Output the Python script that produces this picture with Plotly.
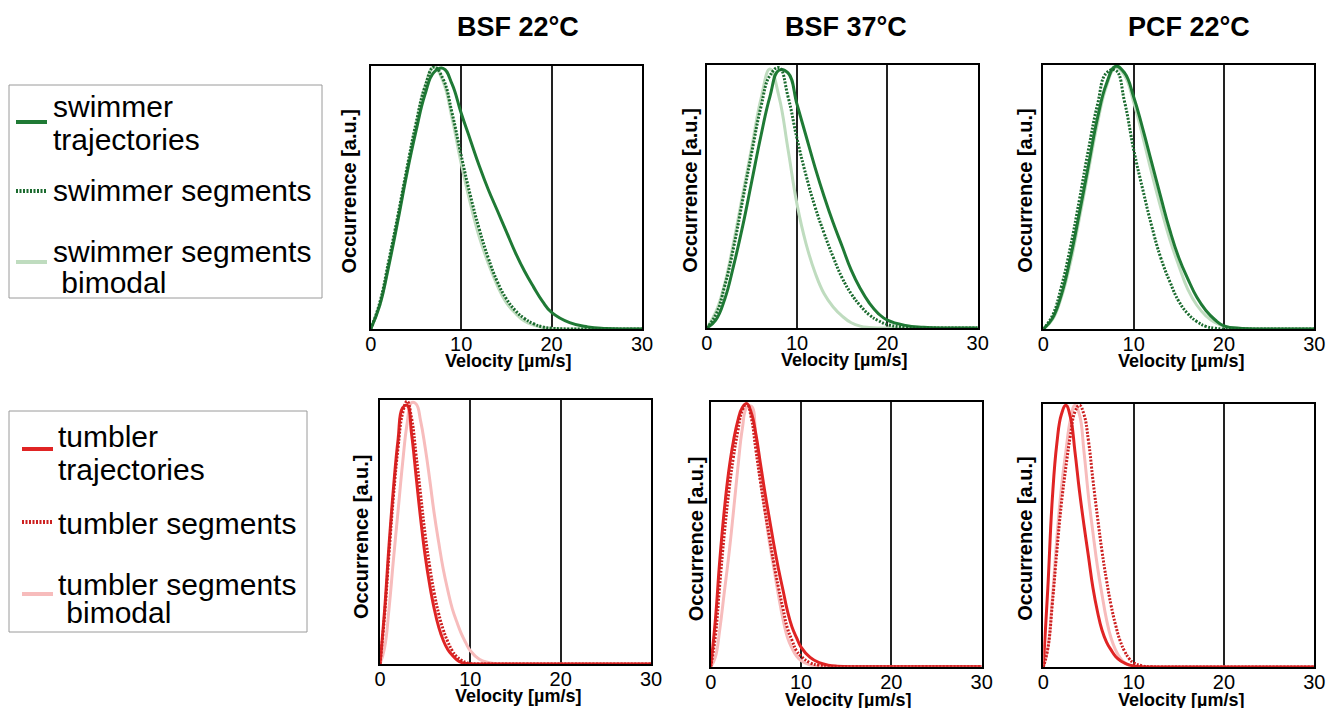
import plotly.graph_objects as go

# ---------------- data ----------------
panel_titles = ["BSF 22°C", "BSF 37°C", "PCF 22°C"]
x_ticks = [0, 10, 20, 30]

# velocity sample points (µm/s)
swim_v = [0, 1, 2, 3, 4, 5, 6, 7, 8, 9, 10, 11, 12, 13, 14, 15, 16, 17, 18, 19, 20,
          22, 24, 26, 28, 30]
tumb_v = [0, 0.5, 1, 1.5, 2, 2.5, 3, 3.5, 4, 4.5, 5, 5.5, 6, 6.5, 7, 7.5, 8, 8.5, 9, 9.5, 10,
          11, 12, 13, 14, 16, 20, 30]

# swimmers, BSF 22°C
bsf22_swim_traj = [0, 0.09, 0.24, 0.41, 0.59, 0.75, 0.89, 0.975, 0.99, 0.93, 0.82, 0.72, 0.62, 0.53,
                   0.45, 0.37, 0.29, 0.22, 0.16, 0.105, 0.063, 0.024, 0.008, 0.002, 0, 0]
bsf22_swim_seg = [0, 0.10, 0.26, 0.43, 0.61, 0.78, 0.92, 0.995, 0.95, 0.82, 0.66, 0.51, 0.38, 0.27,
                  0.18, 0.115, 0.07, 0.04, 0.02, 0.008, 0.003, 0, 0, 0, 0, 0]
bsf22_swim_bimod = [0, 0.09, 0.25, 0.42, 0.60, 0.77, 0.92, 0.995, 0.94, 0.80, 0.63, 0.48, 0.35, 0.25,
                    0.165, 0.10, 0.06, 0.03, 0.015, 0.006, 0.002, 0, 0, 0, 0, 0]
# swimmers, BSF 37°C
bsf37_swim_traj = [0, 0.03, 0.11, 0.24, 0.39, 0.56, 0.73, 0.88, 0.98, 0.97, 0.85, 0.73, 0.61, 0.50,
                   0.40, 0.31, 0.22, 0.15, 0.095, 0.055, 0.03, 0.01, 0.003, 0, 0, 0]
bsf37_swim_seg = [0, 0.05, 0.16, 0.31, 0.49, 0.67, 0.84, 0.96, 0.99, 0.88, 0.72, 0.58, 0.46, 0.36,
                  0.27, 0.19, 0.13, 0.085, 0.05, 0.028, 0.013, 0.003, 0, 0, 0, 0]
bsf37_swim_bimod = [0, 0.06, 0.17, 0.33, 0.51, 0.69, 0.87, 0.985, 0.88, 0.68, 0.47, 0.32, 0.21, 0.13,
                    0.08, 0.045, 0.02, 0.007, 0.002, 0, 0, 0, 0, 0, 0, 0]
# swimmers, PCF 22°C
pcf22_swim_traj = [0, 0.04, 0.13, 0.27, 0.44, 0.62, 0.80, 0.93, 0.995, 0.97, 0.88, 0.76, 0.63, 0.50,
                   0.375, 0.27, 0.19, 0.12, 0.07, 0.035, 0.012, 0.002, 0, 0, 0, 0]
pcf22_swim_seg = [0, 0.05, 0.16, 0.31, 0.49, 0.68, 0.85, 0.97, 0.98, 0.86, 0.68, 0.53, 0.39, 0.27,
                  0.18, 0.105, 0.058, 0.028, 0.01, 0.003, 0, 0, 0, 0, 0, 0]
pcf22_swim_bimod = [0, 0.035, 0.12, 0.25, 0.42, 0.60, 0.78, 0.92, 0.99, 0.96, 0.86, 0.73, 0.59, 0.46,
                    0.34, 0.24, 0.15, 0.09, 0.05, 0.025, 0.01, 0.002, 0, 0, 0, 0]

# tumblers, BSF 22°C
bsf22_tumb_traj = [0, 0.20, 0.45, 0.67, 0.85, 0.97, 0.98, 0.87, 0.71, 0.55, 0.41, 0.30, 0.21, 0.14,
                   0.09, 0.055, 0.033, 0.016, 0.006, 0.002, 0, 0, 0, 0, 0, 0, 0, 0]
bsf22_tumb_seg = [0, 0.18, 0.42, 0.64, 0.82, 0.95, 0.995, 0.93, 0.79, 0.64, 0.49, 0.37, 0.27, 0.19,
                  0.13, 0.085, 0.05, 0.028, 0.014, 0.006, 0.002, 0, 0, 0, 0, 0, 0, 0]
bsf22_tumb_bimod = [0, 0.06, 0.21, 0.40, 0.58, 0.76, 0.91, 0.99, 0.985, 0.92, 0.82, 0.70, 0.57, 0.46,
                    0.36, 0.28, 0.21, 0.16, 0.115, 0.08, 0.05, 0.018, 0.006, 0.001, 0, 0, 0, 0]
# tumblers, BSF 37°C
bsf37_tumb_traj = [0, 0.17, 0.40, 0.59, 0.74, 0.85, 0.93, 0.98, 0.995, 0.96, 0.88, 0.77, 0.66, 0.56,
                   0.46, 0.37, 0.29, 0.21, 0.15, 0.11, 0.074, 0.035, 0.015, 0.006, 0.002, 0, 0, 0]
bsf37_tumb_seg = [0, 0.11, 0.31, 0.50, 0.66, 0.79, 0.89, 0.97, 0.995, 0.94, 0.82, 0.70, 0.59, 0.49,
                  0.39, 0.30, 0.22, 0.145, 0.10, 0.06, 0.04, 0.015, 0.005, 0.001, 0, 0, 0, 0]
bsf37_tumb_bimod = [0, 0.035, 0.14, 0.28, 0.42, 0.58, 0.75, 0.90, 0.98, 0.985, 0.87, 0.72, 0.59, 0.47,
                    0.37, 0.27, 0.18, 0.11, 0.07, 0.04, 0.023, 0.006, 0.001, 0, 0, 0, 0, 0]
# tumblers, PCF 22°C
pcf22_tumb_traj = [0, 0.30, 0.64, 0.85, 0.96, 0.995, 0.95, 0.82, 0.67, 0.54, 0.42, 0.30, 0.21, 0.14,
                   0.095, 0.065, 0.04, 0.025, 0.015, 0.008, 0.004, 0.001, 0, 0, 0, 0, 0, 0]
pcf22_tumb_seg = [0, 0.07, 0.24, 0.44, 0.62, 0.76, 0.88, 0.97, 0.995, 0.96, 0.86, 0.71, 0.57, 0.44,
                  0.33, 0.235, 0.16, 0.10, 0.06, 0.032, 0.016, 0.004, 0.001, 0, 0, 0, 0, 0]
pcf22_tumb_bimod = [0, 0.07, 0.26, 0.49, 0.68, 0.82, 0.94, 0.995, 0.96, 0.82, 0.65, 0.51, 0.38, 0.275,
                    0.18, 0.11, 0.065, 0.035, 0.016, 0.006, 0.002, 0, 0, 0, 0, 0, 0, 0]

swim_legend = ["swimmer", "trajectories", "swimmer segments", "swimmer segments", " bimodal"]
tumb_legend = ["tumbler", "trajectories", "tumbler segments", "tumbler segments", " bimodal"]
x_title = "Velocity [µm/s]"
y_title = "Occurrence [a.u.]"

# ---------------- styling ----------------
W, H = 1337, 708
FONT = "Liberation Sans, Arial, sans-serif"

GREEN = "#1f7a35"
GREEN_DOT = "#1a6a2e"
GREEN_LIGHT = "#bfdcbf"
RED = "#e02424"
RED_DOT = "#cc1f1f"
RED_LIGHT = "#f7bcbc"


def px(x):
    return x / W


def py(y):
    return 1 - y / H


# panel boxes in page pixels: (left, right, top, bottom)
boxes = [
    (370.7, 642.0, 65.7, 329.0),
    (706.7, 977.7, 65.0, 328.0),
    (1043.3, 1314.3, 65.0, 329.0),
    (380.0, 651.0, 400.0, 664.0),
    (710.7, 981.7, 402.3, 666.7),
    (1043.3, 1314.3, 404.0, 667.0),
]
# offsets (px) of the y-axis titles relative to each panel's left edge / vertical centre
ytitle_dx = [-22, -17, -19, -19, -15, -19]
ytitle_dy = [6.5, 6.5, 6.5, -4, -4, -3]
xtitle_dy = [-32, -32, -32, -32, -33, -33]

panels = [
    (swim_v, bsf22_swim_traj, bsf22_swim_seg, bsf22_swim_bimod, "swim"),
    (swim_v, bsf37_swim_traj, bsf37_swim_seg, bsf37_swim_bimod, "swim"),
    (swim_v, pcf22_swim_traj, pcf22_swim_seg, pcf22_swim_bimod, "swim"),
    (tumb_v, bsf22_tumb_traj, bsf22_tumb_seg, bsf22_tumb_bimod, "tumb"),
    (tumb_v, bsf37_tumb_traj, bsf37_tumb_seg, bsf37_tumb_bimod, "tumb"),
    (tumb_v, pcf22_tumb_traj, pcf22_tumb_seg, pcf22_tumb_bimod, "tumb"),
]

fig = go.Figure()
layout = dict(
    width=W, height=H, autosize=False,
    margin=dict(l=0, r=0, t=0, b=0, pad=0, autoexpand=False),
    paper_bgcolor="white", plot_bgcolor="white",
    showlegend=False,
    font=dict(family=FONT, color="black"),
)
annotations = []
shapes = []

DOT = "2px,1.5px"
SM = 1.3

for i, (v, traj, seg, bimod, kind) in enumerate(panels, start=1):
    sfx = "" if i == 1 else str(i)
    xa, ya = "x" + sfx, "y" + sfx
    if kind == "swim":
        c_main, c_dot, c_light = GREEN, GREEN_DOT, GREEN_LIGHT
    else:
        c_main, c_dot, c_light = RED, RED_DOT, RED_LIGHT
    common = dict(mode="lines", xaxis=xa, yaxis=ya, hoverinfo="skip")
    fig.add_trace(go.Scatter(x=v, y=bimod, line=dict(color=c_light, width=3, shape="spline", smoothing=SM), **common))
    fig.add_trace(go.Scatter(x=v, y=traj, line=dict(color=c_main, width=3, shape="spline", smoothing=SM), **common))
    fig.add_trace(go.Scatter(x=v, y=seg, line=dict(color=c_dot, width=3, dash=DOT, shape="spline", smoothing=SM), **common))

    l, r, t, b = boxes[i - 1]
    layout["xaxis" + sfx] = dict(
        domain=[px(l), px(r)], anchor=ya, range=[0, 30], automargin=False,
        tickmode="array", tickvals=x_ticks, ticktext=[str(t_) for t_ in x_ticks],
        showgrid=True, gridcolor="#222", gridwidth=1.5,
        showline=True, linecolor="black", linewidth=2, mirror=True,
        zeroline=False, ticks="", ticklabelstandoff=-4,
        tickfont=dict(size=20, family=FONT, color="black"),
    )
    layout["yaxis" + sfx] = dict(
        domain=[py(b), py(t)], anchor=xa, range=[0, 1.0], automargin=False,
        showgrid=False, showticklabels=False, ticks="",
        showline=True, linecolor="black", linewidth=2, mirror=True, zeroline=False,
    )
    annotations.append(dict(
        text="<b>%s</b>" % x_title, xref=xa + " domain", yref=ya + " domain",
        x=0.5, y=0, xshift=2, yshift=xtitle_dy[i - 1], xanchor="center", yanchor="middle",
        showarrow=False, font=dict(size=18, family=FONT, color="black"),
    ))
    annotations.append(dict(
        text="<b>%s</b>" % y_title, xref=xa + " domain", yref=ya + " domain",
        x=0, y=0.5, xshift=ytitle_dx[i - 1], yshift=ytitle_dy[i - 1],
        xanchor="center", yanchor="middle", textangle=-90,
        showarrow=False, font=dict(size=20, family=FONT, color="black"),
    ))

# column titles
for cx, title in zip([518, 846, 1189], panel_titles):
    annotations.append(dict(
        text="<b>%s</b>" % title, xref="paper", yref="paper", x=px(cx), y=py(27),
        xanchor="center", yanchor="middle", showarrow=False,
        font=dict(size=27, family=FONT, color="black"),
    ))

# legend boxes
legend_specs = [
    dict(box=(9, 322, 85, 298), labels=swim_legend, colors=(GREEN, GREEN_DOT, GREEN_LIGHT),
         line_x=(16, 47), line_y=(122, 191, 262), text_x=(51, 51, 51, 51, 51),
         text_y=(106, 139, 190, 251, 282)),
    dict(box=(9, 307, 411, 632), labels=tumb_legend, colors=(RED, RED_DOT, RED_LIGHT),
         line_x=(22, 53), line_y=(449, 522, 594), text_x=(56, 56, 56, 56, 56),
         text_y=(437, 469, 523, 584, 612)),
]
for spec in legend_specs:
    x0, x1, y0, y1 = spec["box"]
    shapes.append(dict(type="rect", xref="paper", yref="paper",
                       x0=px(x0), x1=px(x1), y0=py(y1), y1=py(y0),
                       line=dict(color="#9a9a9a", width=1), fillcolor="rgba(0,0,0,0)"))
    dashes = ["solid", DOT, "solid"]
    for ly, col, dsh in zip(spec["line_y"], spec["colors"], dashes):
        shapes.append(dict(type="line", xref="paper", yref="paper",
                           x0=px(spec["line_x"][0]), x1=px(spec["line_x"][1]), y0=py(ly), y1=py(ly),
                           line=dict(color=col, width=4, dash=dsh)))
    for lab, tx, ty in zip(spec["labels"], spec["text_x"], spec["text_y"]):
        annotations.append(dict(
            text=lab.replace(" ", "&nbsp;") if lab.startswith(" ") else lab,
            xref="paper", yref="paper", x=px(tx), y=py(ty),
            xanchor="left", yanchor="middle", showarrow=False,
            font=dict(size=30, family=FONT, color="black"),
        ))

layout["annotations"] = annotations
layout["shapes"] = shapes
fig.update_layout(**layout)

# remove the page's default body margin so the figure fills the window exactly
PAGE_FIX = ("document.documentElement.style.margin='0';document.body.style.margin='0';"
            "document.documentElement.style.overflow='hidden';document.body.style.overflow='hidden';")
fig.write_html("out.html", post_script=PAGE_FIX,
               config={"responsive": False, "displayModeBar": False})
